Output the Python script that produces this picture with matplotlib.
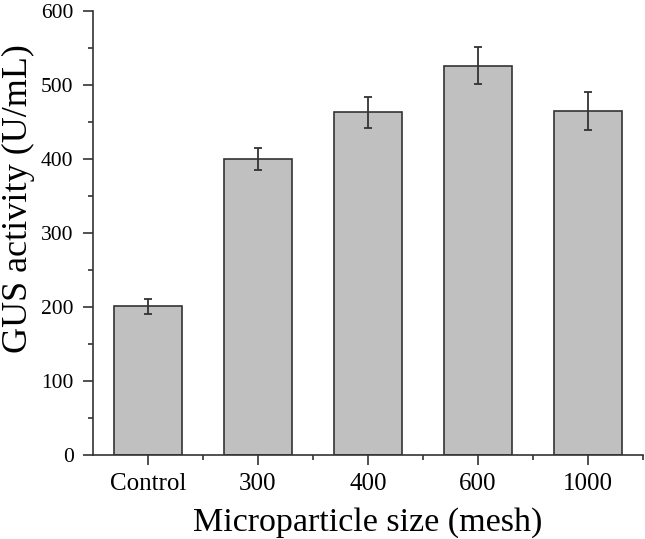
import matplotlib
matplotlib.use('Agg')
import matplotlib.pyplot as plt
from matplotlib.ticker import MultipleLocator, FixedLocator

plt.rcParams['font.family'] = ['Liberation Serif', 'DejaVu Serif']

# data
sizes = ['Control', '300', '400', '600', '1000']
activity = [201, 400, 463, 526, 465]
errors = [10, 15, 21, 25, 26]

fig = plt.figure(figsize=(6.45, 5.39), dpi=100)
ax = fig.add_axes([93 / 645, 1 - 455 / 539, 550 / 645, 444 / 539])

x = range(len(sizes))
ax.bar(x, activity, width=0.61, color='#c0c0c0', edgecolor='#333333', linewidth=1.2,
       yerr=errors, error_kw=dict(ecolor='#333333', elinewidth=1.3, capsize=2.6, capthick=1.3))

ax.set_xlim(-0.5, 4.5)
ax.set_ylim(0, 600)
ax.set_xticks(list(x))
ax.set_xticklabels(sizes)
ax.xaxis.set_minor_locator(FixedLocator([0.5, 1.5, 2.5, 3.5, 4.5]))
ax.yaxis.set_major_locator(MultipleLocator(100))
ax.yaxis.set_minor_locator(MultipleLocator(50))

for s in ['top', 'right']:
    ax.spines[s].set_visible(False)
for s in ['left', 'bottom']:
    ax.spines[s].set_color('#333333')
    ax.spines[s].set_linewidth(1.2)

ax.tick_params(which='major', direction='out', length=7, width=1.2, color='#333333')
ax.tick_params(which='minor', direction='out', length=3.5, width=1.2, color='#333333')
ax.tick_params(axis='y', which='major', labelsize=15.5, pad=7)
ax.tick_params(axis='x', which='major', labelsize=18, pad=6)

ax.set_xlabel('Microparticle size (mesh)', fontsize=24.5)
ax.set_ylabel('GUS activity (U/mL)', fontsize=26)
ax.xaxis.set_label_coords(0.5, -0.117)
ax.yaxis.set_label_coords(-0.105, 0.577)

fig.savefig('out.png', dpi=100)
